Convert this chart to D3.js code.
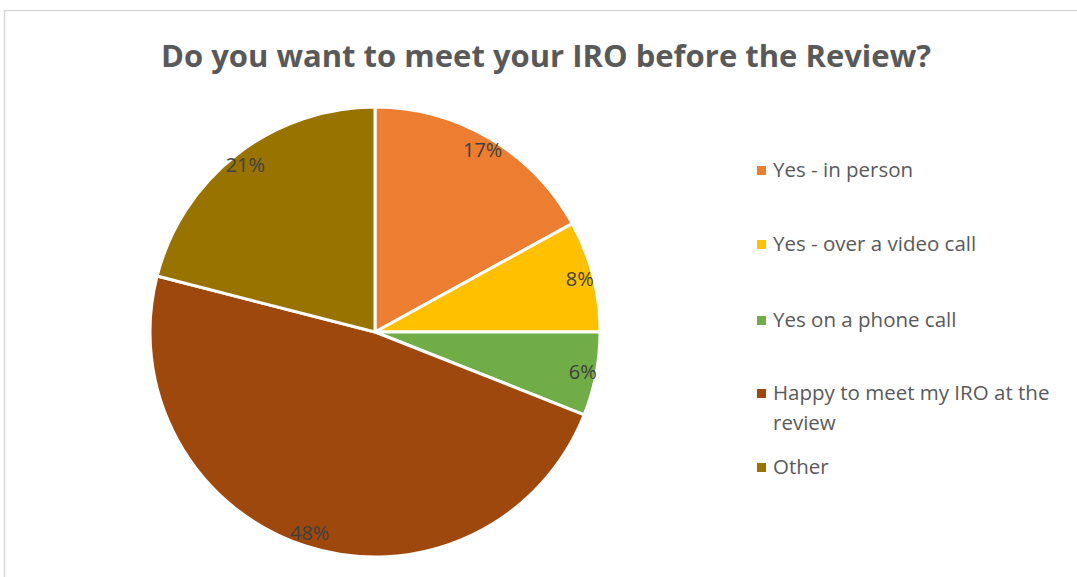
<!DOCTYPE html>
<html>
<head>
<meta charset="utf-8">
<script src="https://cdn.jsdelivr.net/npm/d3@7"></script>
<style>
  body { margin: 0; background: #fff; }
  svg { display: block; }
</style>
</head>
<body>
<div id="viz"></div>
<script>
var categories = ["Yes - in person", "Yes - over a video call", "Yes on a phone call", "Happy to meet my IRO at the review", "Other"];
var values = [17, 8, 6, 48, 21];
var colors = ["#ed7d31", "#ffc000", "#70ad47", "#9e480e", "#997300"];
var title = "Do you want to meet your IRO before the Review?";

var width = 1077, height = 577;
var cx = 375, cy = 332, radius = 225;

var svg = d3.select('#viz').append('svg')
  .attr('width', width)
  .attr('height', height);

// chart border
svg.append('rect')
  .attr('x', 4.5).attr('y', 10.5)
  .attr('width', width + 10).attr('height', height + 10)
  .attr('fill', '#fff')
  .attr('stroke', '#d9d9d9')
  .attr('stroke-width', 1.5);

svg.append('text')
  .attr('x', 546).attr('y', 67)
  .attr('text-anchor', 'middle')
  .style('font-family', '"Open Sans", sans-serif')
  .style('font-weight', 'bold')
  .style('font-size', '31px')
  .attr('fill', '#595959')
  .text(title);

var pie = d3.pie().sort(null).value(function(d) { return d; });
var arcs = pie(values);

var arc = d3.arc().innerRadius(0).outerRadius(radius);
var labelArc = d3.arc().innerRadius(radius * 0.94).outerRadius(radius * 0.94);

var g = svg.append('g')
  .attr('transform', 'translate(' + cx + ',' + cy + ')');

g.selectAll('path').data(arcs)
  .enter().append('path')
  .attr('d', arc)
  .attr('fill', function(d, i) { return colors[i]; })
  .attr('stroke', '#fff')
  .attr('stroke-width', 3)
  .attr('stroke-linejoin', 'round');

g.selectAll('text.lbl').data(arcs)
  .enter().append('text')
  .attr('class', 'lbl')
  .attr('transform', function(d) {
    var c = labelArc.centroid(d);
    return 'translate(' + c[0] + ',' + c[1] + ')';
  })
  .attr('text-anchor', 'middle')
  .attr('dy', '0.35em')
  .style('font-family', '"Open Sans", sans-serif')
  .style('font-size', '20px')
  .attr('fill', '#404040')
  .text(function(d) { return d.data + '%'; });

// legend
var legendY = [170, 244, 320, 393, 467];
var legend = svg.append('g');
var item = legend.selectAll('g').data(categories)
  .enter().append('g')
  .attr('transform', function(d, i) { return 'translate(757,' + legendY[i] + ')'; });

item.append('rect')
  .attr('x', 0).attr('y', -4)
  .attr('width', 9).attr('height', 9)
  .attr('fill', function(d, i) { return colors[i]; });

item.append('text')
  .attr('x', 16)
  .attr('dy', '0.35em')
  .style('font-family', '"Open Sans", sans-serif')
  .style('font-size', '20.5px')
  .attr('fill', '#595959')
  .each(function(d) {
    var t = d3.select(this);
    if (d.length > 30) {
      var parts = ["Happy to meet my IRO at the", "review"];
      parts.forEach(function(p, k) {
        t.append('tspan').attr('x', 16).attr('dy', k === 0 ? '0.35em' : 30).text(p);
      });
    } else {
      t.text(d);
    }
  });
</script>
</body>
</html>
